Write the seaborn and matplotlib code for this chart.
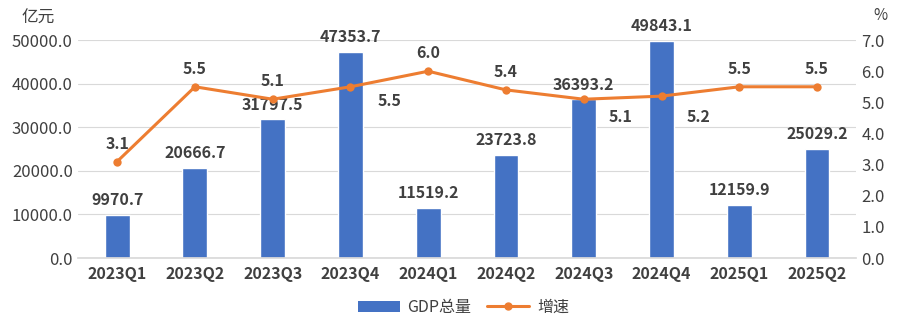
import matplotlib
matplotlib.use("Agg")
import matplotlib.pyplot as plt
from matplotlib.lines import Line2D
from matplotlib.patches import Patch
import seaborn as sns
import pandas as pd

quarters = ["2023Q1", "2023Q2", "2023Q3", "2023Q4", "2024Q1",
            "2024Q2", "2024Q3", "2024Q4", "2025Q1", "2025Q2"]
gdp_total = [9970.7, 20666.7, 31797.5, 47353.7, 11519.2,
             23723.8, 36393.2, 49843.1, 12159.9, 25029.2]
growth = [3.1, 5.5, 5.1, 5.5, 6.0, 5.4, 5.1, 5.2, 5.5, 5.5]

sns.set_theme(style="white")
plt.rcParams["font.family"] = ["Noto Sans CJK SC", "DejaVu Sans"]

df = pd.DataFrame({"quarter": quarters, "gdp": gdp_total, "growth": growth})

BLUE = "#4472C4"
ORANGE = "#ED7D31"
TXT = "#404040"

fig = plt.figure(figsize=(9, 3.34), dpi=100)
ax = fig.add_axes([0.087, 0.2275, 0.864, 0.6525])
sns.barplot(data=df, x="quarter", y="gdp", color=BLUE, width=0.32,
            saturation=1, ax=ax, zorder=2)
ax.set_ylim(0, 50000)
ax.set_yticks(range(0, 50001, 10000))
ax.set_yticklabels([f"{v:.1f}" for v in range(0, 50001, 10000)],
                   fontsize=12, color=TXT)
ax.set_xlabel("")
ax.set_ylabel("")
ax.set_xlim(-0.5, len(quarters) - 0.5)
ax.grid(axis="y", color="#D9D9D9", linewidth=0.8, zorder=0)
for s in ["top", "right", "left"]:
    ax.spines[s].set_visible(False)
ax.spines["bottom"].set_color("#D9D9D9")
ax.tick_params(axis="x", length=0, pad=6)
ax.tick_params(axis="y", length=0, pad=4)
for lab in ax.get_xticklabels():
    lab.set_fontsize(11.5)
    lab.set_fontweight("semibold")
    lab.set_color(TXT)

for i, v in enumerate(gdp_total):
    ax.text(i, v + 1500, f"{v:.1f}", ha="center", va="bottom",
            fontsize=11.5, fontweight="bold", color=TXT)

ax2 = ax.twinx()
sns.lineplot(data=df, x="quarter", y="growth", color=ORANGE, linewidth=2.2,
             marker="o", markersize=6, markeredgewidth=0, ax=ax2,
             sort=False, zorder=3)
ax2.set_ylim(0, 7.0)
ax2.set_yticks([i * 1.0 for i in range(8)])
ax2.set_yticklabels([f"{i:.1f}" for i in range(8)], fontsize=12, color=TXT)
ax2.set_ylabel("")
ax2.set_xlim(-0.5, len(quarters) - 0.5)
for s in ax2.spines.values():
    s.set_visible(False)
ax2.tick_params(axis="y", length=0, pad=4)

# label offsets (x in categories, y in percent); some labels sit below-right
offsets = {3: (0.5, -0.2), 6: (0.47, -0.3), 7: (0.47, -0.42)}
for i, v in enumerate(growth):
    dx, dy = offsets.get(i, (0, 0.32))
    ax2.text(i + dx, v + dy, f"{v:.1f}", ha="center",
             va="bottom" if dy > 0 else "top",
             fontsize=11.5, fontweight="bold", color=TXT)

fig.text(0.042, 0.945, "亿元", ha="center", va="center", fontsize=12, color=TXT)
fig.text(0.978, 0.955, "%", ha="center", va="center", fontsize=11, color=TXT)

handles = [Patch(facecolor=BLUE, edgecolor="none"),
           Line2D([0], [0], color=ORANGE, linewidth=2.2, marker="o",
                  markersize=5)]
fig.legend(handles, ["GDP总量", "增速"], loc="center", ncol=2,
           bbox_to_anchor=(0.515, 0.08), frameon=False, fontsize=11.5,
           handlelength=2.6, columnspacing=1.0, handletextpad=0.5,
           labelcolor=TXT)

fig.savefig("out.png", dpi=100)
